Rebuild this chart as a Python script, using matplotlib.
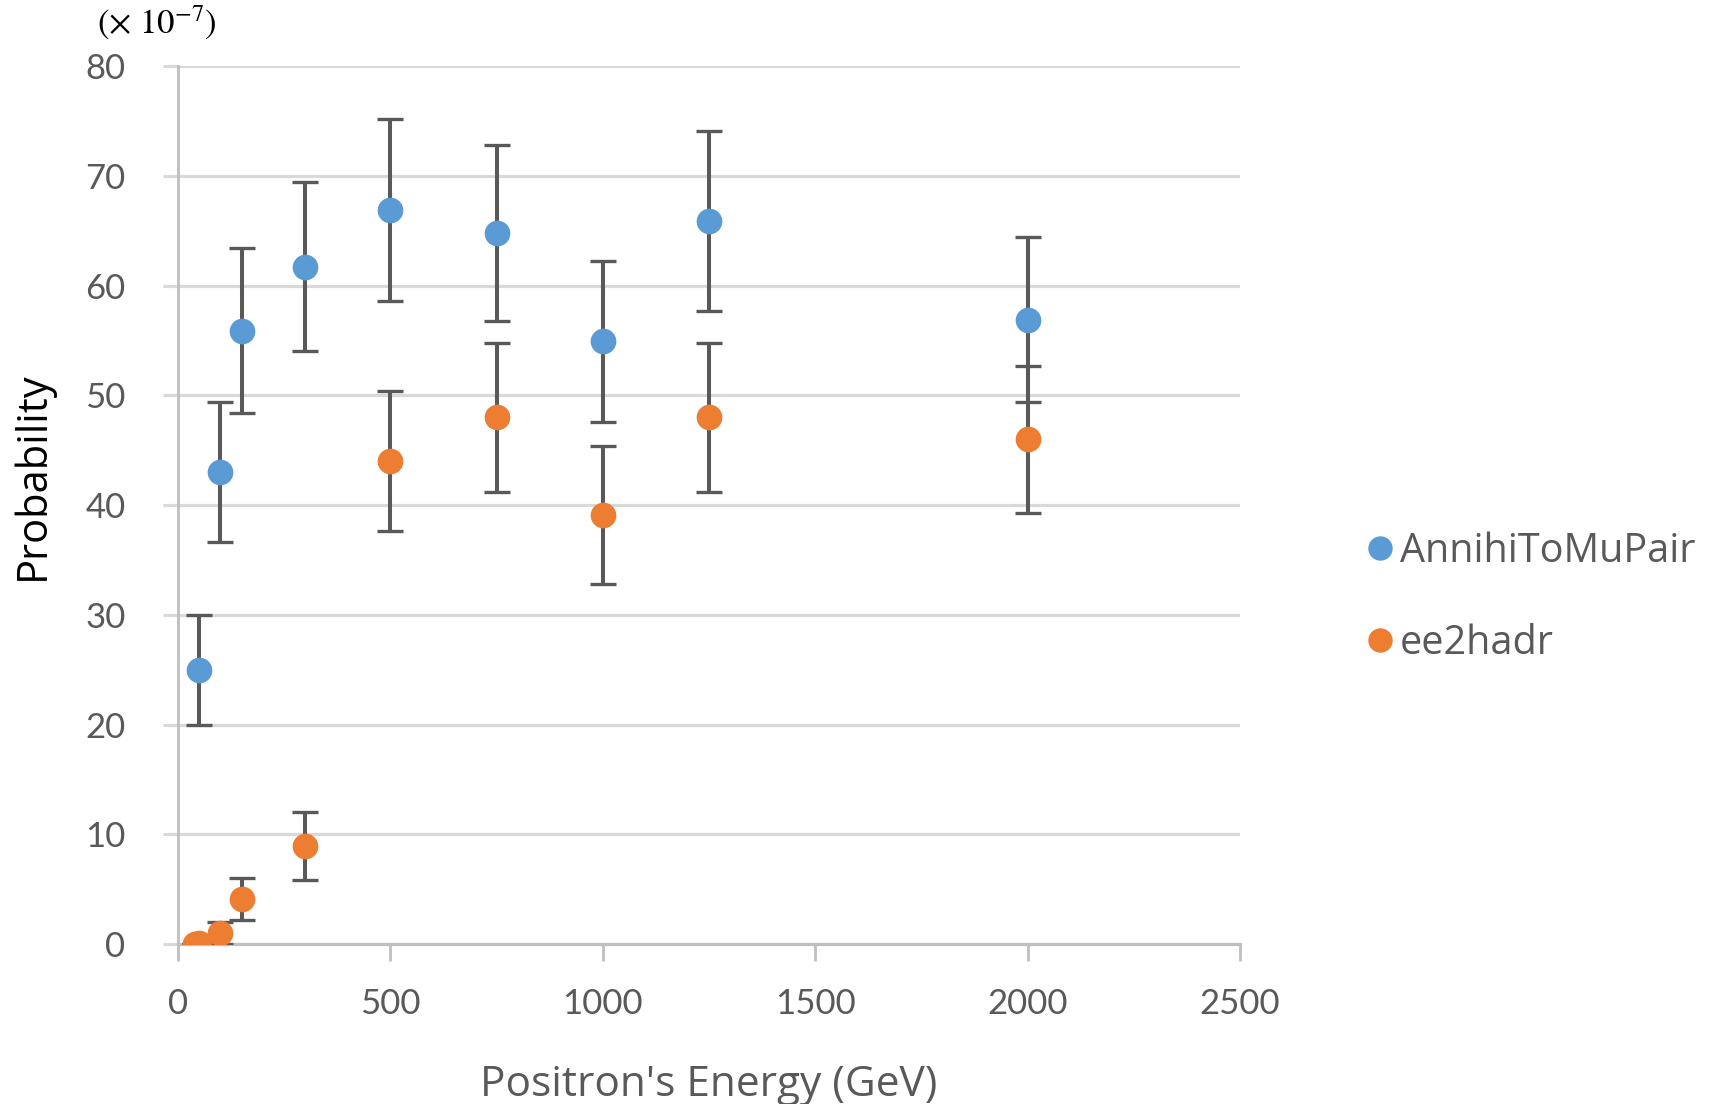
import matplotlib
matplotlib.use("Agg")
import matplotlib.pyplot as plt

# values (probability in units of 1e-7)
energy_mu = [50, 100, 150, 300, 500, 750, 1000, 1250, 2000]
prob_mu = [25.0, 43.0, 55.9, 61.7, 66.9, 64.8, 54.9, 65.9, 56.9]
err_mu = [5.0, 6.4, 7.5, 7.7, 8.3, 8.0, 7.3, 8.2, 7.5]

energy_had = [40, 50, 100, 150, 300, 500, 750, 1000, 1250, 2000]
prob_had = [0.0, 0.1, 1.0, 4.1, 8.9, 44.0, 48.0, 39.1, 48.0, 46.0]
err_had = [0.0, 0.0, 1.0, 1.9, 3.1, 6.4, 6.8, 6.3, 6.8, 6.7]

xticks = [0, 500, 1000, 1500, 2000, 2500]
yticks = [0, 10, 20, 30, 40, 50, 60, 70, 80]

blue = '#5b9bd5'
orange = '#ed7d31'
txt = '#595959'
font = ['Lato', 'DejaVu Sans']
wide = ['Open Sans', 'DejaVu Sans']

fig = plt.figure(figsize=(17.16, 11.04), dpi=100)
ax = fig.add_axes([0.1037, 0.1449, 0.6189, 0.7953])

# error bars first, markers on top
ax.errorbar(energy_mu, prob_mu, yerr=err_mu, fmt='none', ecolor='#595959',
            elinewidth=2.9, capsize=9.4, capthick=2.4, zorder=3)
ax.errorbar(energy_had, prob_had, yerr=err_had, fmt='none', ecolor='#595959',
            elinewidth=2.9, capsize=9.4, capthick=2.4, zorder=3)
l1, = ax.plot(energy_mu, prob_mu, 'o', color=blue, ms=18.5, mew=0, zorder=4,
              label='AnnihiToMuPair')
l2, = ax.plot(energy_had, prob_had, 'o', color=orange, ms=18.5, mew=0, zorder=4,
              label='ee2hadr')

ax.set_xlim(0, 2500)
ax.set_ylim(0, 80)
ax.set_xticks(xticks)
ax.set_yticks(yticks)
ax.grid(axis='y', color='#d9d9d9', lw=2.3, zorder=0)
ax.set_axisbelow(True)

for s in ['top', 'right']:
    ax.spines[s].set_visible(False)
ax.spines['left'].set_color('#bfbfbf')
ax.spines['left'].set_linewidth(2.0)
ax.spines['bottom'].set_color('#bfbfbf')
ax.spines['bottom'].set_linewidth(2.3)

ax.tick_params(axis='y', length=10.8, width=2.3, color='#d9d9d9', pad=27,
               labelsize=25, labelcolor=txt)
ax.tick_params(axis='x', length=12, width=2.0, color='#bfbfbf', pad=20,
               labelsize=25, labelcolor=txt)
ax.yaxis.get_major_ticks()[0].tick1line.set_color('#bfbfbf')
for lab in ax.get_xticklabels() + ax.get_yticklabels():
    lab.set_family(font)

ax.set_xlabel("Positron's Energy (GeV)", fontsize=30.5, color=txt, family=wide,
              labelpad=31)
fig.text(0.019, 0.569, 'Probability', rotation=90, fontsize=30, color='black',
         family=wide, ha='center', va='center')
fig.text(0.0915, 0.979, r'$(\times\ 10^{-7})$', fontsize=25, color='black',
         ha='center', va='center', math_fontfamily='stix')

leg = fig.legend(handles=[l1, l2], loc='upper left', bbox_to_anchor=(0.779, 0.551),
                 frameon=False, labelcolor=txt, handlelength=0.4,
                 handletextpad=0.3, labelspacing=1.3, markerscale=0.95,
                 prop={'family': wide, 'size': 28.5})

fig.savefig('out.png', dpi=100)
